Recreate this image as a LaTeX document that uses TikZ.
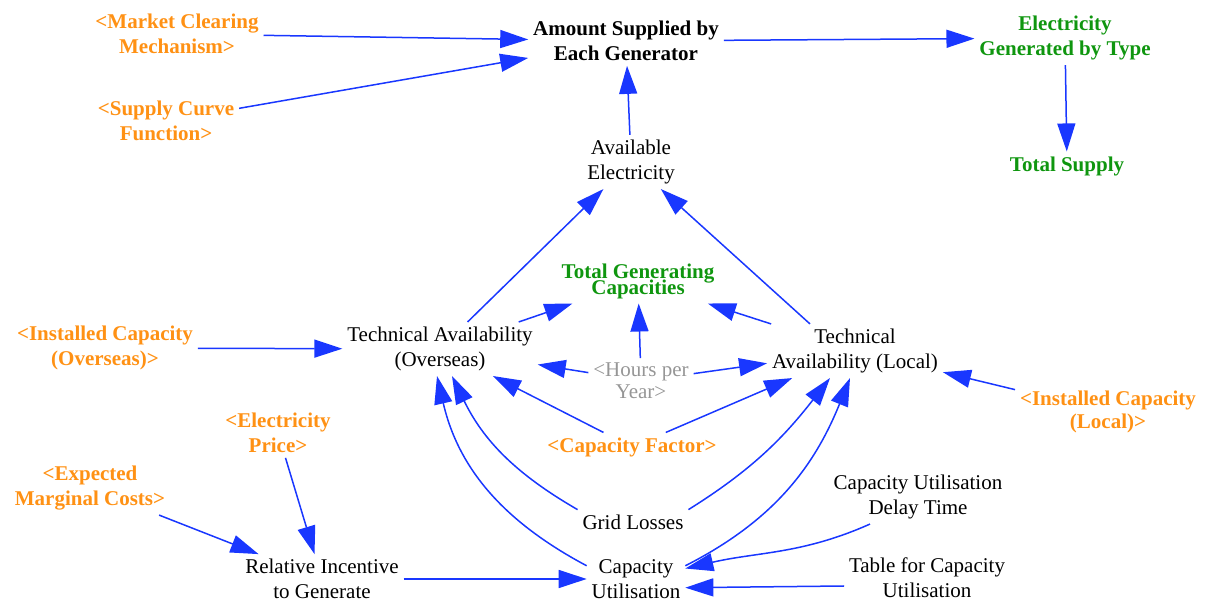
\documentclass[tikz,border=0pt]{standalone}
\usepackage{fontspec}
\setmainfont{Liberation Serif}
\usetikzlibrary{arrows.meta}
\definecolor{linkblue}{RGB}{25,55,255}
\definecolor{shadoworange}{RGB}{255,145,20}
\definecolor{outgreen}{RGB}{15,150,15}
\definecolor{ghostgray}{RGB}{150,150,150}

\begin{document}
\begin{tikzpicture}[x=1pt,y=1pt,
  var/.style={font=\fontsize{21}{25}\selectfont, align=center, inner sep=2pt, outer sep=3pt},
  keyvar/.style={var, font=\fontsize{21}{25}\selectfont\bfseries},
  shadowvar/.style={var, font=\fontsize{21}{25}\selectfont\bfseries, text=shadoworange},
  outvar/.style={var, font=\fontsize{21}{25}\selectfont\bfseries, text=outgreen},
  ghostvar/.style={var, font=\fontsize{21}{22}\selectfont, text=ghostgray},
  link/.style={draw=linkblue, line width=1.5pt, -{Triangle[length=28pt,width=18pt]}},
]
\useasboundingbox (0,0) rectangle (1206,601);

% variables
\node[shadowvar] (mcm) at (177,567) {<Market Clearing\\Mechanism>};
\node[shadowvar] (scf) at (166,480) {<Supply Curve\\Function>};
\node[keyvar] (asg) at (626,560) {Amount Supplied by\\Each Generator};
\node[outvar] (egt) at (1065,563) {Electricity\\Generated by Type};
\node[outvar] (ts) at (1067,435) {Total Supply};
\node[var] (ae) at (631,439) {Available\\Electricity};
\node[outvar, font={\fontsize{21}{16}\selectfont\bfseries\setlength{\lineskiplimit}{-50pt}}] (tgc) at (638,320) {Total Generating\\Capacities};
\node[var] (tao) at (440,252) {Technical Availability\\(Overseas)};
\node[var] (tal) at (855,250) {Technical\\Availability (Local)};
\node[shadowvar] (ico) at (105,253) {<Installed Capacity\\(Overseas)>};
\node[ghostvar] (hpy) at (641,220) {<Hours per\\Year>};
\node[shadowvar, font=\fontsize{21}{23}\selectfont\bfseries] (icl) at (1108,189) {<Installed Capacity\\(Local)>};
\node[shadowvar] (ep) at (278,168) {<Electricity\\Price>};
\node[shadowvar] (cf) at (632,154) {<Capacity Factor>};
\node[shadowvar] (emc) at (90,113) {<Expected\\Marginal Costs>};
\node[var] (gl) at (633,79) {Grid Losses};
\node[var] (cudt) at (918,104) {Capacity Utilisation\\Delay Time};
\node[var] (rig) at (322,22) {Relative Incentive\\to Generate};
\node[var] (cu) at (636,22) {Capacity\\Utilisation};
\node[var] (tcu) at (927,23) {Table for Capacity\\Utilisation};

% straight links
\draw[link] (mcm) -- (asg);
\draw[link] (scf) -- (asg);
\draw[link] (asg) -- (egt);
\draw[link] (egt) -- (ts);
\draw[link] (ae) -- (asg);
\draw[link] (tao) -- (ae);
\draw[link] ([xshift=-45pt]tal.north) -- (ae);
\draw[link] (tao) -- (tgc);
\draw[link] (tal) -- (tgc);
\draw[link] (hpy) -- (tgc);
\draw[link] (hpy) -- (tao);
\draw[link] (hpy) -- (tal);
\draw[link] (ico) -- (tao);
\draw[link] (icl) -- (tal);
\draw[link] (cf) -- (tao);
\draw[link] (cf) -- (tal);
\draw[link] (emc) -- (rig);
\draw[link] (ep) -- (rig);
\draw[link] (rig) -- (cu);
\draw[link] ([yshift=-8pt]tcu.west) -- (cu.-10);

% curved links
\draw[link] (gl.north west) to[out=150, in=-64] ([xshift=12pt]tao.south);
\draw[link] (cu.165) to[out=152, in=-77] ([xshift=-3pt]tao.south);
\draw[link] (gl.north east) to[out=32, in=-128] ([xshift=-25pt]tal.south);
\draw[link] (cu.15) to[out=27, in=-112] ([xshift=-5pt]tal.south);
\draw[link] ([xshift=-48pt]cudt.south) to[out=204, in=13] (cu.12);
\end{tikzpicture}
\end{document}
